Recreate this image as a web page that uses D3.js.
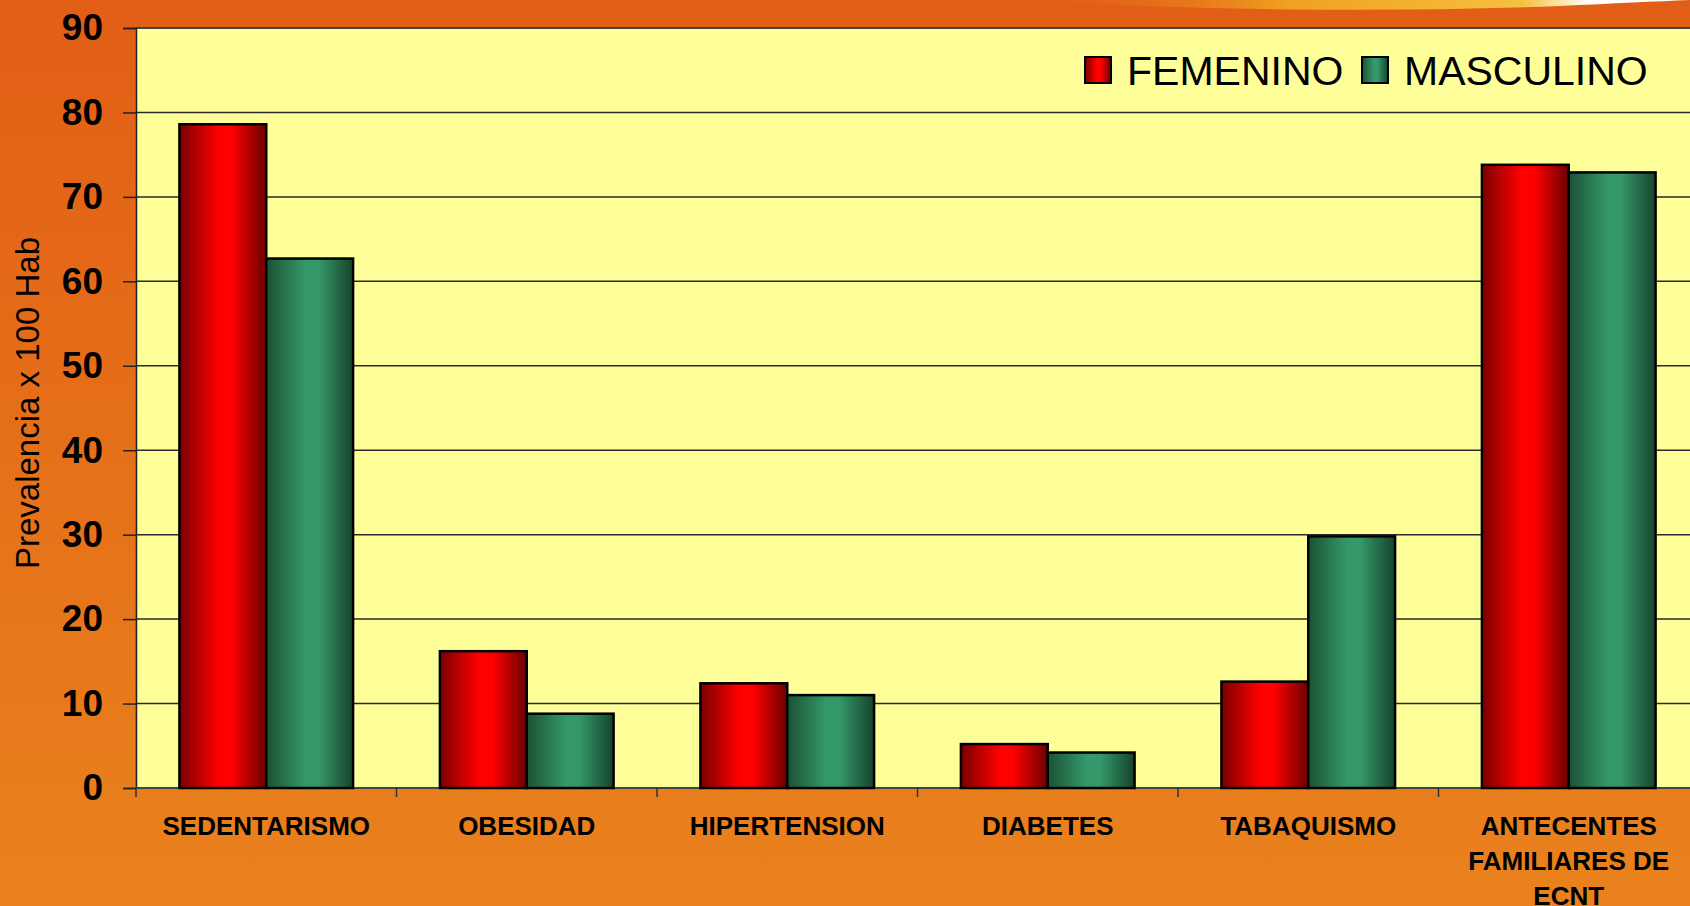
<html>
    <head>
        <script src="https://d3js.org/d3.v7.min.js"></script>
        <title>Prevalencia</title>
        <style>
            body { margin: 0; background: #E46A18; }
            svg { display: block; }
        </style>
    </head>
    <body>
        <div class="viz"></div>
        <script type="text/javascript">
            var categories = ["SEDENTARISMO", "OBESIDAD", "HIPERTENSION", "DIABETES", "TABAQUISMO", "ANTECENTES FAMILIARES DE ECNT"];
            var seriesNames = ["FEMENINO", "MASCULINO"];
            var femenino = [78.6, 16.2, 12.4, 5.2, 12.6, 73.8];
            var masculino = [62.7, 8.8, 11.0, 4.2, 29.8, 72.9];
            var yTicks = [0, 10, 20, 30, 40, 50, 60, 70, 80, 90];

            var vizWidth = 1690;
            var vizHeight = 906;
            var plotLeft = 136, plotTop = 28, plotRight = 1699, plotBottom = 788;

            var svg = d3.select("div")
                        .append("svg")
                        .attr("width", vizWidth)
                        .attr("height", vizHeight);

            var defs = svg.append("defs");

            // page background
            var bg = defs.append("linearGradient").attr("id", "bgGrad")
                .attr("x1", 0).attr("y1", 0).attr("x2", 0).attr("y2", 1);
            bg.append("stop").attr("offset", "0%").attr("stop-color", "#E25E16");
            bg.append("stop").attr("offset", "100%").attr("stop-color", "#E9821D");

            var sw = defs.append("linearGradient").attr("id", "swoosh")
                .attr("x1", 0).attr("y1", 0).attr("x2", 1).attr("y2", 0);
            sw.append("stop").attr("offset", "0%").attr("stop-color", "#E2601A").attr("stop-opacity", 0);
            sw.append("stop").attr("offset", "40%").attr("stop-color", "#F0A020");
            sw.append("stop").attr("offset", "75%").attr("stop-color", "#F6C040");
            sw.append("stop").attr("offset", "85%").attr("stop-color", "#FFFFFF");
            sw.append("stop").attr("offset", "100%").attr("stop-color", "#FFFFFF");

            // bar gradients
            function barGradient(id, dark, light, darkRight) {
                var g = defs.append("linearGradient").attr("id", id)
                    .attr("x1", 0).attr("y1", 0).attr("x2", 1).attr("y2", 0);
                g.append("stop").attr("offset", "0%").attr("stop-color", dark);
                g.append("stop").attr("offset", "45%").attr("stop-color", light);
                g.append("stop").attr("offset", "60%").attr("stop-color", light);
                g.append("stop").attr("offset", "100%").attr("stop-color", darkRight);
            }
            barGradient("gradF", "#7A0000", "#FF0000", "#6A0000");
            barGradient("gradM", "#1B5234", "#34986A", "#17432B");

            svg.append("rect")
                .attr("width", vizWidth)
                .attr("height", vizHeight)
                .attr("fill", "url(#bgGrad)");

            svg.append("path")
                .attr("d", "M1020,0 Q1300,16 1560,6 Q1640,2 1690,0 Z")
                .attr("fill", "url(#swoosh)");

            var xScale = d3.scaleBand()
                    .domain(categories)
                    .range([plotLeft, plotRight]);

            var bw = xScale.bandwidth();
            var xInner = d3.scaleBand()
                    .domain(seriesNames)
                    .range([bw / 6, bw * 5 / 6]);

            var yScale = d3.scaleLinear()
                    .domain([0, 90])
                    .range([plotBottom, plotTop]);

            // plot area
            svg.append("rect")
                .attr("x", plotLeft)
                .attr("y", plotTop)
                .attr("width", plotRight - plotLeft)
                .attr("height", plotBottom - plotTop)
                .attr("fill", "#FFFF99")
                .attr("stroke", "#808080")
                .attr("stroke-width", 1.5);

            // gridlines
            svg.append("g")
                .selectAll("line")
                .data(yTicks.slice(1))
                .enter()
                .append("line")
                .attr("x1", plotLeft)
                .attr("x2", plotRight)
                .attr("y1", function(d){ return yScale(d); })
                .attr("y2", function(d){ return yScale(d); })
                .attr("stroke", "#2a2a2a")
                .attr("stroke-width", 1.5);

            // y axis
            var yAxis = svg.append("g")
                .attr("transform", "translate(" + plotLeft + ",0)")
                .call(d3.axisLeft(yScale).tickValues(yTicks).tickSize(13).tickPadding(20));
            yAxis.select(".domain").attr("stroke", "#222").attr("stroke-width", 1.5);
            yAxis.selectAll(".tick line").attr("stroke", "#222").attr("stroke-width", 1.5);
            yAxis.selectAll("text")
                .attr("fill", "#000")
                .attr("font-family", "Arial, 'Liberation Sans', sans-serif")
                .attr("font-weight", "bold")
                .attr("font-size", 37);

            // x axis line and ticks at category boundaries
            svg.append("line")
                .attr("x1", plotLeft).attr("x2", plotRight)
                .attr("y1", plotBottom).attr("y2", plotBottom)
                .attr("stroke", "#444").attr("stroke-width", 2);

            svg.append("g")
                .selectAll("line")
                .data(categories)
                .enter()
                .append("line")
                .attr("x1", function(d){ return xScale(d); })
                .attr("x2", function(d){ return xScale(d); })
                .attr("y1", plotBottom)
                .attr("y2", plotBottom + 9)
                .attr("stroke", "#333")
                .attr("stroke-width", 1.5);

            // bars
            var groups = svg.selectAll("g.cat")
                    .data(categories)
                    .enter()
                    .append("g")
                    .attr("class", "cat")
                    .attr("transform", function(d){ return "translate(" + xScale(d) + ",0)"; });

            groups.selectAll("rect")
                .data(function(d, i){
                    return [{s: "FEMENINO", v: femenino[i]}, {s: "MASCULINO", v: masculino[i]}];
                })
                .enter()
                .append("rect")
                .attr("x", function(d){ return xInner(d.s); })
                .attr("width", xInner.bandwidth())
                .attr("y", function(d){ return yScale(d.v); })
                .attr("height", function(d){ return plotBottom - yScale(d.v); })
                .attr("fill", function(d){ return d.s == "FEMENINO" ? "url(#gradF)" : "url(#gradM)"; })
                .attr("stroke", "#000")
                .attr("stroke-width", 2.5);

            // category labels
            var labels = svg.append("g")
                .selectAll("text")
                .data(categories)
                .enter()
                .append("text")
                .attr("x", function(d){ return xScale(d) + bw / 2; })
                .attr("y", 835)
                .attr("text-anchor", "middle")
                .attr("font-family", "Arial, 'Liberation Sans', sans-serif")
                .attr("font-weight", "bold")
                .attr("font-size", 26)
                .attr("fill", "#000");

            labels.each(function(d){
                var lines = d == "ANTECENTES FAMILIARES DE ECNT" ? ["ANTECENTES", "FAMILIARES DE", "ECNT"] : [d];
                var t = d3.select(this);
                lines.forEach(function(l, i){
                    t.append("tspan")
                        .attr("x", xScale(d) + bw / 2)
                        .attr("dy", i == 0 ? 0 : 35)
                        .text(l);
                });
            });

            // y axis title
            svg.append("text")
                .attr("transform", "translate(39,403) rotate(-90)")
                .attr("text-anchor", "middle")
                .attr("font-family", "Arial, 'Liberation Sans', sans-serif")
                .attr("font-size", 33)
                .attr("fill", "#000")
                .text("Prevalencia x 100 Hab");

            // legend
            var legendX = [1085, 1362];
            var legend = svg.append("g")
                .selectAll("g")
                .data(seriesNames)
                .enter()
                .append("g")
                .attr("transform", function(d, i){ return "translate(" + legendX[i] + ",57)"; });

            legend.append("rect")
                .attr("width", 26)
                .attr("height", 26)
                .attr("fill", function(d){ return d == "FEMENINO" ? "url(#gradF)" : "url(#gradM)"; })
                .attr("stroke", "#000")
                .attr("stroke-width", 2);

            legend.append("text")
                .attr("x", 42)
                .attr("y", 28)
                .attr("font-family", "Arial, 'Liberation Sans', sans-serif")
                .attr("font-size", 41)
                .attr("fill", "#000")
                .text(function(d){ return d; });
        </script>
    </body>
</html>
